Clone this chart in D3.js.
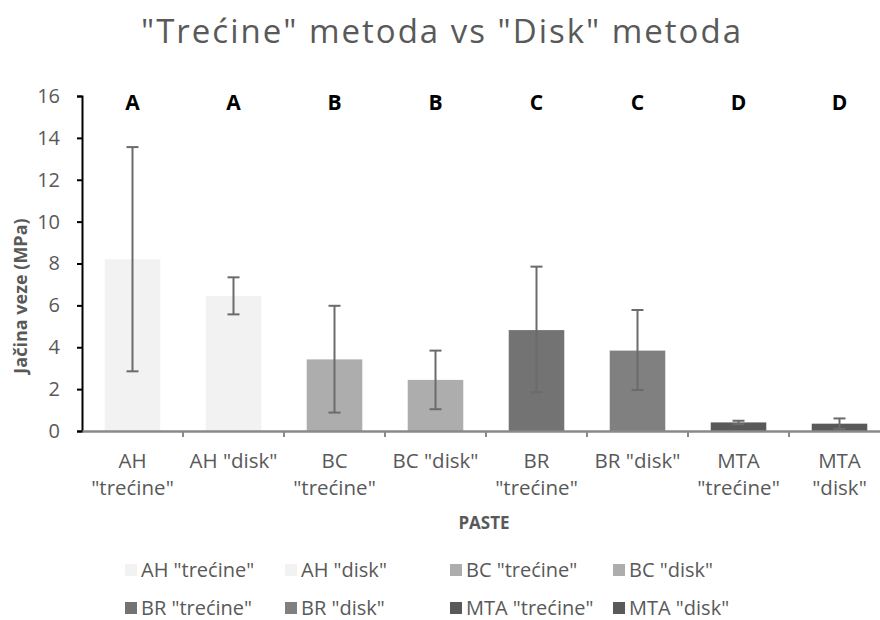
<!DOCTYPE html>
<html><head><meta charset="utf-8">
<script src="https://cdn.jsdelivr.net/npm/d3@7"></script>
<style>body{margin:0;background:#fff;} svg{display:block;font-family:"Open Sans",sans-serif;}</style>
</head><body>
<svg id="c" width="880" height="620"></svg>
<script>
const categories = ['AH "trećine"','AH "disk"','BC "trećine"','BC "disk"','BR "trećine"','BR "disk"','MTA "trećine"','MTA "disk"'];
const labelLines = [['AH','"trećine"'],['AH "disk"'],['BC','"trećine"'],['BC "disk"'],['BR','"trećine"'],['BR "disk"'],['MTA','"trećine"'],['MTA','"disk"']];
const means = [8.2, 6.45, 3.42, 2.44, 4.82, 3.84, 0.41, 0.35];
const errUpper = [13.56, 7.34, 5.98, 3.84, 7.85, 5.78, 0.49, 0.60];
const errLower = [2.85, 5.57, 0.88, 1.04, 1.85, 1.96, 0.33, 0.10];
const groupLetters = ['A','A','B','B','C','C','D','D'];
const colors = ['#f2f2f2','#f2f2f2','#adadad','#adadad','#737373','#808080','#595959','#595959'];
const yTicks = [0,2,4,6,8,10,12,14,16];

const svg = d3.select('#c');
const x = d3.scaleBand().domain(categories).range([82, 890]).paddingInner(0.45).paddingOuter(0.225);
const y = d3.scaleLinear().domain([0,16]).range([431, 96]);
const band = d3.scaleBand().domain(categories).range([82, 890]);

svg.append('text').attr('x', 442).attr('y', 43).attr('text-anchor','middle')
  .attr('font-size', 33).attr('fill', '#595959').attr('letter-spacing', 2)
  .text('"Trećine" metoda vs "Disk" metoda');

// bars
svg.selectAll('rect.bar').data(categories).join('rect').attr('class','bar')
  .attr('x', d => x(d)).attr('width', x.bandwidth())
  .attr('y', (d,i) => y(means[i])).attr('height', (d,i) => y(0) - y(means[i]))
  .attr('fill', (d,i) => colors[i]);

// error bars
const eb = svg.append('g').attr('stroke', '#6b6b6b').attr('stroke-width', 2);
categories.forEach((c,i) => {
  const cx = x(c) + x.bandwidth()/2;
  eb.append('line').attr('x1',cx).attr('x2',cx).attr('y1',y(errUpper[i])).attr('y2',y(errLower[i]));
  [errUpper[i], errLower[i]].forEach(v => eb.append('line').attr('x1',cx-6).attr('x2',cx+6).attr('y1',y(v)).attr('y2',y(v)));
});

// y axis
const ya = svg.append('g').attr('transform','translate(82,0)')
  .call(d3.axisLeft(y).tickValues(yTicks).tickSize(5).tickPadding(17));
ya.select('.domain').attr('stroke','#000').attr('stroke-width',2);
ya.selectAll('.tick line').attr('stroke','#000').attr('stroke-width',2);
ya.selectAll('.tick text').attr('font-size',20).attr('fill','#595959').attr('font-family','"Open Sans",sans-serif');

// x axis
const xa = svg.append('g').attr('transform','translate(0,431)')
  .call(d3.axisBottom(band).tickSize(0).tickFormat(''));
xa.select('.domain').attr('stroke','#898989').attr('stroke-width',2.5);
xa.selectAll('.tick').remove();
const bounds = categories.slice(1).map(c => band(c));
svg.append('g').selectAll('line').data(bounds).join('line')
  .attr('x1', d => d).attr('x2', d => d).attr('y1', 431).attr('y2', 437)
  .attr('stroke','#898989').attr('stroke-width',2);

// x labels
categories.forEach((c,i) => {
  const cx = band(c) + band.bandwidth()/2;
  const t = svg.append('text').attr('x', cx).attr('y', 468).attr('text-anchor','middle')
    .attr('font-size', 20.5).attr('fill','#595959');
  labelLines[i].forEach((ln,k) => t.append('tspan').attr('x', cx).attr('dy', k ? 27 : 0).text(ln));
});

// group letters
categories.forEach((c,i) => {
  svg.append('text').attr('x', band(c) + band.bandwidth()/2).attr('y', 110)
    .attr('text-anchor','middle').attr('font-size', 21).attr('font-weight','bold').attr('fill','#000')
    .text(groupLetters[i]);
});

// axis titles
svg.append('text').attr('transform','translate(27,296) rotate(-90)').attr('text-anchor','middle')
  .attr('font-size',18).attr('font-weight','bold').attr('fill','#595959').text('Jačina veze (MPa)');
svg.append('text').attr('x', 484).attr('y', 529).attr('text-anchor','middle')
  .attr('font-size',17).attr('font-weight','bold').attr('fill','#595959').text('PASTE');

// legend
const legX = [125, 285, 450, 613];
const legY = [570, 608];
categories.forEach((c,i) => {
  const lx = legX[i % 4], ly = legY[Math.floor(i/4)];
  svg.append('rect').attr('x', lx).attr('y', ly-6).attr('width', 12).attr('height', 12).attr('fill', colors[i]);
  svg.append('text').attr('x', lx + 16).attr('y', ly + 7).attr('font-size', 20).attr('fill','#595959').text(c);
});
</script>
</body></html>
